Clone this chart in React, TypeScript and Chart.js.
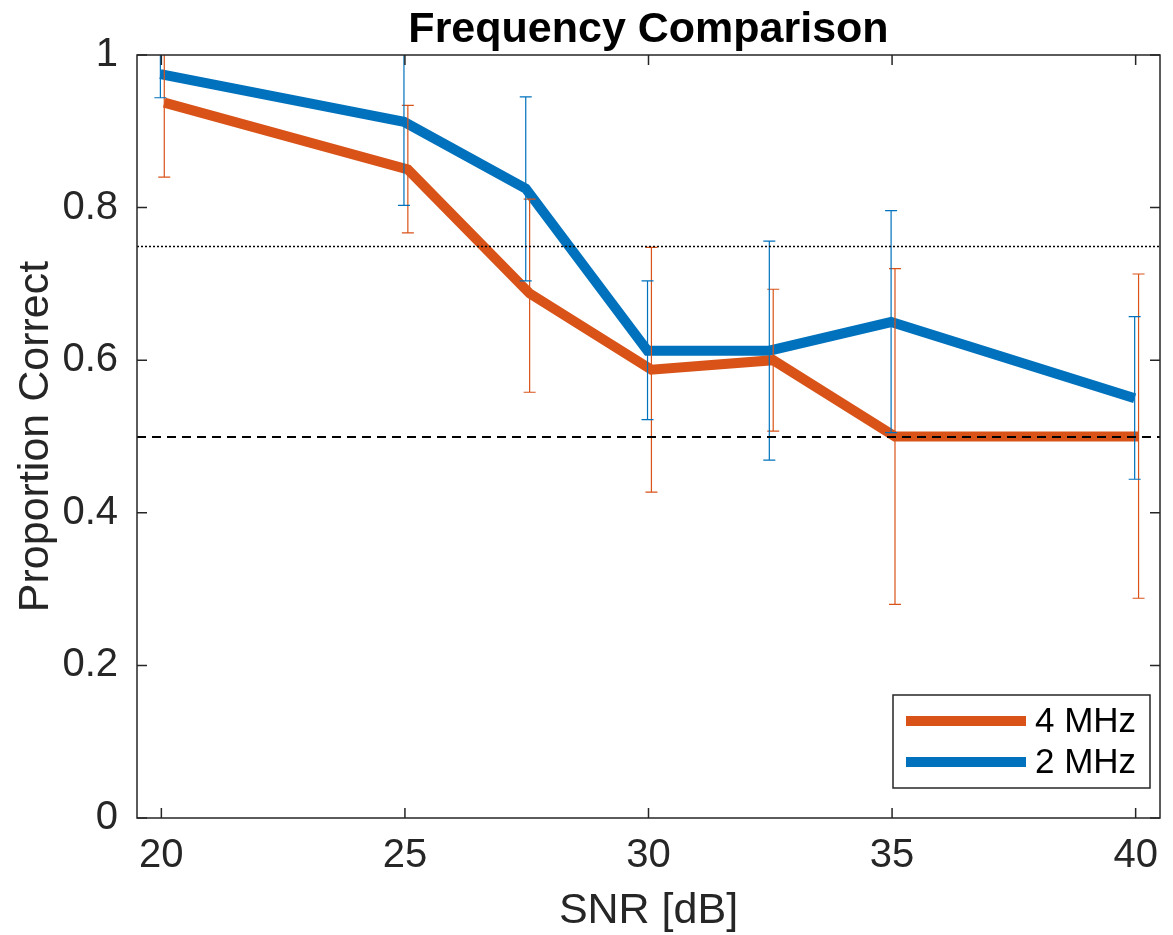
import React, { useEffect, useRef } from "react";
import { Chart, registerables } from "chart.js";

Chart.register(...registerables);

// ---- data ----
const snrValues = [20, 25, 27.5, 30, 32.5, 35, 40];
const mhz4Values = [0.9375, 0.85, 0.6875, 0.5875, 0.6, 0.5, 0.5];
const mhz4Low = [0.84, 0.767, 0.558, 0.427, 0.507, 0.28, 0.288];
const mhz4High = [1.03, 0.934, 0.811, 0.748, 0.693, 0.72, 0.713];
const mhz2Values = [0.975, 0.9125, 0.825, 0.6125, 0.6125, 0.65, 0.55];
const mhz2Low = [0.944, 0.803, 0.704, 0.522, 0.469, 0.505, 0.444];
const mhz2High = [1.03, 1.03, 0.945, 0.704, 0.756, 0.796, 0.657];
const xTickValues = [20, 25, 30, 35, 40];
const yTickValues = [0, 0.2, 0.4, 0.6, 0.8, 1];
const yTickLabels = ["0", "0.2", "0.4", "0.6", "0.8", "1"];
const seriesLabels = ["4 MHz", "2 MHz"];
const chanceLevel = 0.5;
const thresholdLevel = 0.75;
const mhz4Shift = 0.06;
const mhz2Shift = -0.02;

const ORANGE = "#D95319";
const BLUE = "#0072BD";
const AXIS = "#262626";
const FONT = '"Liberation Sans", Arial, Helvetica, sans-serif';

const customPlugin = {
  id: "matlabStyle",
  afterDatasetsDraw(chart: any) {
    const { ctx, chartArea, scales } = chart;
    const xs = scales.x;
    const ys = scales.y;
    const { left, right, top, bottom } = chartArea;

    // error bars
    ctx.save();
    ctx.beginPath();
    ctx.rect(left, top, right - left, bottom - top);
    ctx.clip();
    const drawErr = (lo: number[], hi: number[], shift: number, color: string) => {
      ctx.strokeStyle = color;
      ctx.lineWidth = 1.2;
      for (let i = 0; i < snrValues.length; i++) {
        const x = xs.getPixelForValue(snrValues[i] + shift);
        const y1 = ys.getPixelForValue(lo[i]);
        const y2 = ys.getPixelForValue(hi[i]);
        ctx.beginPath();
        ctx.moveTo(x, y1);
        ctx.lineTo(x, y2);
        ctx.moveTo(x - 6, y1);
        ctx.lineTo(x + 6, y1);
        ctx.moveTo(x - 6, y2);
        ctx.lineTo(x + 6, y2);
        ctx.stroke();
      }
    };
    drawErr(mhz4Low, mhz4High, mhz4Shift, ORANGE);
    drawErr(mhz2Low, mhz2High, mhz2Shift, BLUE);

    // reference lines
    ctx.strokeStyle = "#000";
    ctx.lineWidth = 2;
    ctx.setLineDash([2, 2]);
    let y = Math.round(ys.getPixelForValue(thresholdLevel)) + 0.5;
    ctx.lineWidth = 1.5;
    ctx.beginPath();
    ctx.moveTo(left, y);
    ctx.lineTo(right, y);
    ctx.stroke();
    ctx.setLineDash([9, 6]);
    ctx.lineWidth = 2;
    y = Math.round(ys.getPixelForValue(chanceLevel));
    ctx.beginPath();
    ctx.moveTo(left, y);
    ctx.lineTo(right, y);
    ctx.stroke();
    ctx.setLineDash([]);
    ctx.restore();

    // box + ticks
    ctx.save();
    ctx.strokeStyle = AXIS;
    ctx.lineWidth = 1.5;
    ctx.strokeRect(left, top, right - left, bottom - top);
    ctx.beginPath();
    const tl = 10;
    for (const v of xTickValues) {
      const x = xs.getPixelForValue(v);
      ctx.moveTo(x, bottom);
      ctx.lineTo(x, bottom - tl);
      ctx.moveTo(x, top);
      ctx.lineTo(x, top + tl);
    }
    for (const v of yTickValues) {
      const yy = ys.getPixelForValue(v);
      ctx.moveTo(left, yy);
      ctx.lineTo(left + tl, yy);
      ctx.moveTo(right, yy);
      ctx.lineTo(right - tl, yy);
    }
    ctx.stroke();

    // legend
    const lx = 893, ly = 695, lw = 257, lh = 93;
    ctx.fillStyle = "#fff";
    ctx.fillRect(lx, ly, lw, lh);
    ctx.strokeStyle = AXIS;
    ctx.lineWidth = 1.5;
    ctx.strokeRect(lx, ly, lw, lh);
    const colors = [ORANGE, BLUE];
    const rows = [721, 762];
    ctx.font = `35px ${FONT}`;
    ctx.textBaseline = "middle";
    ctx.textAlign = "left";
    for (let i = 0; i < 2; i++) {
      ctx.strokeStyle = colors[i];
      ctx.lineWidth = 10;
      ctx.beginPath();
      ctx.moveTo(906, rows[i]);
      ctx.lineTo(1026, rows[i]);
      ctx.stroke();
      ctx.fillStyle = "#000";
      ctx.fillText(seriesLabels[i], 1035, rows[i] + 1);
    }
    ctx.restore();
  },
  afterDraw(chart: any) {
    const { ctx, chartArea } = chart;
    const cx = (chartArea.left + chartArea.right) / 2;
    const cy = (chartArea.top + chartArea.bottom) / 2;
    ctx.save();
    ctx.fillStyle = "#000";
    ctx.textAlign = "center";
    ctx.textBaseline = "middle";
    ctx.font = `bold 43px ${FONT}`;
    ctx.fillText("Frequency Comparison", cx, 30);
    ctx.fillStyle = AXIS;
    ctx.font = `43px ${FONT}`;
    ctx.fillText("SNR [dB]", cx, 911);
    ctx.translate(36, cy);
    ctx.rotate(-Math.PI / 2);
    ctx.fillText("Proportion Correct", 0, 0);
    ctx.restore();
  },
};

export default function App() {
  const canvasRef = useRef<HTMLCanvasElement | null>(null);

  useEffect(() => {
    if (!canvasRef.current) return;
    const chart = new Chart(canvasRef.current, {
      type: "line",
      data: {
        datasets: [
          {
            label: seriesLabels[0],
            data: snrValues.map((x, i) => ({ x: x + mhz4Shift, y: mhz4Values[i] })),
            borderColor: ORANGE,
            backgroundColor: ORANGE,
            borderWidth: 10,
            pointRadius: 0,
            borderJoinStyle: "miter",
            borderCapStyle: "butt",
            tension: 0,
          },
          {
            label: seriesLabels[1],
            data: snrValues.map((x, i) => ({ x: x + mhz2Shift, y: mhz2Values[i] })),
            borderColor: BLUE,
            backgroundColor: BLUE,
            borderWidth: 10,
            pointRadius: 0,
            borderJoinStyle: "miter",
            borderCapStyle: "butt",
            tension: 0,
          },
        ],
      },
      options: {
        animation: false,
        responsive: false,
        devicePixelRatio: 1,
        layout: { padding: { top: 55, right: 13, left: 0, bottom: 0 } },
        plugins: {
          legend: { display: false },
          title: { display: false },
          tooltip: { enabled: false },
        },
        scales: {
          x: {
            type: "linear",
            min: 19.5,
            max: 40.5,
            grid: { display: false, drawTicks: false },
            border: { display: false },
            afterBuildTicks: (scale: any) => {
              scale.ticks = xTickValues.map((v) => ({ value: v }));
            },
            afterFit: (scale: any) => {
              scale.height = 117;
            },
            ticks: {
              padding: 14,
              color: AXIS,
              font: { family: FONT, size: 40 },
              maxRotation: 0,
              callback: (v: any) => String(v),
            },
          },
          y: {
            type: "linear",
            min: 0,
            max: 1,
            grid: { display: false, drawTicks: false },
            border: { display: false },
            afterBuildTicks: (scale: any) => {
              scale.ticks = yTickValues.map((v) => ({ value: v }));
            },
            afterFit: (scale: any) => {
              scale.width = 137;
            },
            ticks: {
              padding: 19,
              color: AXIS,
              font: { family: FONT, size: 40 },
              callback: (v: any) => {
                const idx = yTickValues.indexOf(Number(v));
                return idx >= 0 ? yTickLabels[idx] : String(v);
              },
            },
          },
        },
      },
      plugins: [customPlugin],
    });
    return () => chart.destroy();
  }, []);

  return (
    <div style={{ position: "fixed", left: 0, top: 0, width: 1173, height: 935, background: "#fff" }}>
      <canvas ref={canvasRef} width={1173} height={935} />
    </div>
  );
}
